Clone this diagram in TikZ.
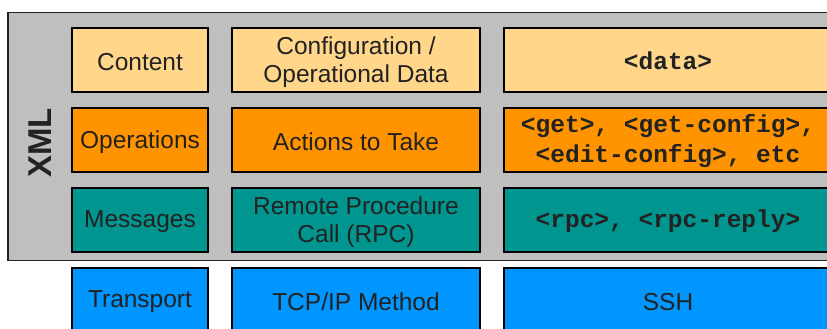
\documentclass[tikz,border=0pt]{standalone}
\usepackage{fontspec}
\setmainfont{Liberation Sans}
\newfontfamily\codefont{Liberation Mono}
\definecolor{layergray}{HTML}{BFBFBF}
\definecolor{contentc}{HTML}{FFD68A}
\definecolor{opsc}{HTML}{FF9300}
\definecolor{msgc}{HTML}{00968F}
\definecolor{transc}{HTML}{0096FF}
\definecolor{inkc}{HTML}{222222}
\tikzset{
  cell/.style={draw=black, line width=2pt, inner sep=0pt, minimum height=64pt},
  colA/.style={cell, minimum width=136pt},
  colB/.style={cell, minimum width=248pt},
  colC/.style={cell, minimum width=328pt},
  txt/.style={align=center, inner sep=0pt, text=inkc,
    font=\fontsize{24.5}{28.5}\selectfont},
  codetxt/.style={txt, font=\codefont\bfseries\fontsize{24.5}{30}\selectfont},
}
% a label set a little below the centre of its box
\newcommand{\boxtext}[2]{%
  \node[txt] (#1-t) at ([yshift=-2pt]#1.center) {#2};}
\newcommand{\boxcode}[2]{%
  \node[codetxt] (#1-t) at ([yshift=-1pt]#1.center) {#2};}
\begin{document}
\begin{tikzpicture}[x=1pt,y=1pt]
\useasboundingbox (0,0) rectangle (827,329);
\clip (0,0) rectangle (827,329);
% XML layer background
\node[draw=inkc, line width=1.5pt, fill=layergray, minimum width=853pt,
  minimum height=248pt, inner sep=0pt, anchor=north west] (xml) at (7,317) {};
\node[rotate=90, font=\bfseries\fontsize{33}{33}\selectfont, text=inkc]
  (xmllabel) at (40,186) {XML};
% Row 1: content
\node[colA, fill=contentc] (contA) at (140,269) {};
\node[colB, fill=contentc] (contB) at (356,269) {};
\node[colC, fill=contentc] (contC) at (668,269) {};
% Row 2: operations
\node[colA, fill=opsc] (opsA) at (140,189) {};
\node[colB, fill=opsc] (opsB) at (356,189) {};
\node[colC, fill=opsc] (opsC) at (668,189) {};
% Row 3: messages
\node[colA, fill=msgc] (msgA) at (140,109) {};
\node[colB, fill=msgc] (msgB) at (356,109) {};
\node[colC, fill=msgc] (msgC) at (668,109) {};
% Row 4: transport
\node[colA, fill=transc] (trA) at (140,29) {};
\node[colB, fill=transc] (trB) at (356,29) {};
\node[colC, fill=transc] (trC) at (668,29) {};
% texts
\boxtext{contA}{Content}
\boxtext{contB}{Configuration /\\Operational Data}
\boxcode{contC}{<data>}
\boxtext{opsA}{Operations}
\boxtext{opsB}{Actions to Take}
\boxcode{opsC}{<get>, <get-config>,\\<edit-config>, etc}
\boxtext{msgA}{Messages}
\boxtext{msgB}{Remote Procedure\\Call (RPC)}
\boxcode{msgC}{<rpc>, <rpc-reply>}
\boxtext{trA}{Transport}
\boxtext{trB}{TCP/IP Method}
\boxtext{trC}{SSH}
\end{tikzpicture}
\end{document}
